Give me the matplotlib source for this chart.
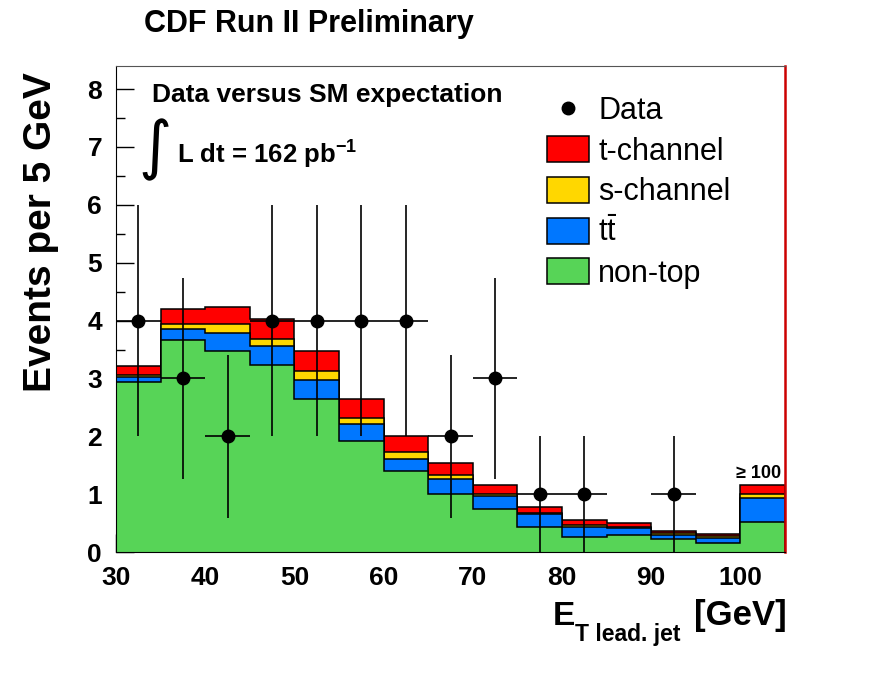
import numpy as np
import matplotlib
matplotlib.use('Agg')
from matplotlib import pyplot as plt
from matplotlib.lines import Line2D
from matplotlib.patches import Patch

plt.rcParams['font.family'] = ['Liberation Sans', 'DejaVu Sans']
plt.rcParams['mathtext.fontset'] = 'custom'
plt.rcParams['mathtext.rm'] = 'Liberation Sans'
plt.rcParams['mathtext.bf'] = 'Liberation Sans:bold'
plt.rcParams['mathtext.it'] = 'Liberation Sans:italic'

# bin edges of the leading jet E_T histogram (last bin is overflow >= 100)
bin_edges = [30, 35, 40, 45, 50, 55, 60, 65, 70, 75, 80, 85, 90, 95, 100, 105]

# stacked expectation, bottom to top
non_top = [2.94, 3.66, 3.48, 3.23, 2.65, 1.92, 1.40, 1.01, 0.74, 0.44, 0.26, 0.30, 0.22, 0.16, 0.51]
ttbar = [0.09, 0.19, 0.30, 0.33, 0.33, 0.30, 0.21, 0.25, 0.22, 0.21, 0.17, 0.11, 0.07, 0.09, 0.42]
s_chan = [0.03, 0.09, 0.16, 0.13, 0.15, 0.10, 0.11, 0.07, 0.05, 0.02, 0.04, 0.02, 0.04, 0.02, 0.07]
t_chan = [0.15, 0.26, 0.29, 0.33, 0.35, 0.32, 0.28, 0.20, 0.15, 0.11, 0.08, 0.07, 0.04, 0.04, 0.15]

# observed events (bins with zero entries not drawn)
data_x = [32.5, 37.5, 42.5, 47.5, 52.5, 57.5, 62.5, 67.5, 72.5, 77.5, 82.5, 92.5]
data_y = [4, 3, 2, 4, 4, 4, 4, 2, 3, 1, 1, 1]
data_err = [2.0, 1.73, 1.41, 2.0, 2.0, 2.0, 2.0, 1.41, 1.73, 1.0, 1.0, 1.0]
bin_half = 2.5

labels = ['t-channel', 's-channel', r'$\mathrm{t\bar{t}}$', 'non-top']
colors = ['#ff0000', '#ffd700', '#0077ff', '#57d457']

fig = plt.figure(figsize=(8.69, 6.99), dpi=100)
ax = fig.add_axes([116 / 869, 1 - 552 / 699, 669 / 869, 486 / 699])

# cumulative sums, drawn from the top layer down
layers = [non_top, ttbar, s_chan, t_chan]
cum = np.cumsum(np.array(layers), axis=0)
for i in range(len(layers) - 1, -1, -1):
    ax.stairs(cum[i], bin_edges, baseline=0, fill=True,
              facecolor=colors[len(layers) - 1 - i], edgecolor='black',
              linewidth=1.1, zorder=2 + (len(layers) - i))

ax.errorbar(data_x, data_y, yerr=data_err, xerr=bin_half, fmt='o',
            color='black', markersize=9, elinewidth=1.2, capsize=0, zorder=10)

ax.set_xlim(30, 105)
ax.set_ylim(0, 8.4)
ax.set_xticks(range(30, 101, 10))
ax.set_xticks(range(35, 105, 10), minor=True)
ax.set_yticks(range(0, 9))
ax.set_yticks(np.arange(0.5, 8.4, 1.0), minor=True)
ax.tick_params(which='both', direction='in', top=False, right=False)
ax.tick_params(which='major', length=13, width=1.0)
ax.tick_params(which='minor', length=6.5, width=1.0)
ax.tick_params(axis='both', labelsize=19, pad=10)
for lab in ax.get_xticklabels() + ax.get_yticklabels():
    lab.set_fontweight('bold')

ax.spines['top'].set_color('#555555')
ax.spines['right'].set_color('#cc0000')
ax.spines['right'].set_linewidth(1.8)
for side in ['top', 'right', 'left', 'bottom']:
    ax.spines[side].set_zorder(20)

ax.text(0.054, 0.926, 'Data versus SM expectation', transform=ax.transAxes,
        fontsize=19, fontweight='bold', va='baseline', ha='left')
ax.text(0.058, 0.827, '\u222b', transform=ax.transAxes, family='DejaVu Sans',
        fontsize=46, va='center', ha='center')
ax.text(0.091, 0.800, r'L dt = 162 pb$^{\mathbf{-1}}$', transform=ax.transAxes,
        fontsize=18.5, fontweight='bold', va='baseline', ha='left')
ax.text(104.6, 1.28, '\u2265 100', fontsize=13, fontweight='bold',
        ha='right', va='baseline', family=['Liberation Sans', 'DejaVu Sans'])

handles = [Line2D([], [], marker='o', linestyle='none', color='black', markersize=9)]
for c, lab in zip(colors, labels):
    handles.append(Patch(facecolor=c, edgecolor='black', linewidth=1.1))
fig.legend(handles, ['Data'] + labels, loc='upper left',
           bbox_to_anchor=(547 / 869, 1 - 96 / 699), frameon=False,
           fontsize=22, handlelength=1.38, handleheight=0.92, handletextpad=0.3,
           labelspacing=0.33, borderpad=0, borderaxespad=0)

fig.text(309 / 869, 1 - 24 / 699, 'CDF Run II Preliminary', fontsize=22,
         fontweight='bold', ha='center', va='center')
fig.text(41 / 869, 1 - 232 / 699, 'Events per 5 GeV', fontsize=28,
         fontweight='bold', rotation=90, ha='center', va='center')

# x-axis title built from three pieces: E, lowered subscript, unit
fig.text(553 / 869, 1 - 625 / 699, 'E', fontsize=24, fontweight='bold',
         ha='left', va='baseline')
fig.text(575 / 869, 1 - 641 / 699, 'T lead. jet', fontsize=16.5,
         fontweight='bold', ha='left', va='baseline')
fig.text(787 / 869, 1 - 625 / 699, '[GeV]', fontsize=25, fontweight='bold',
         ha='right', va='baseline')

fig.savefig('out.png', dpi=100)
